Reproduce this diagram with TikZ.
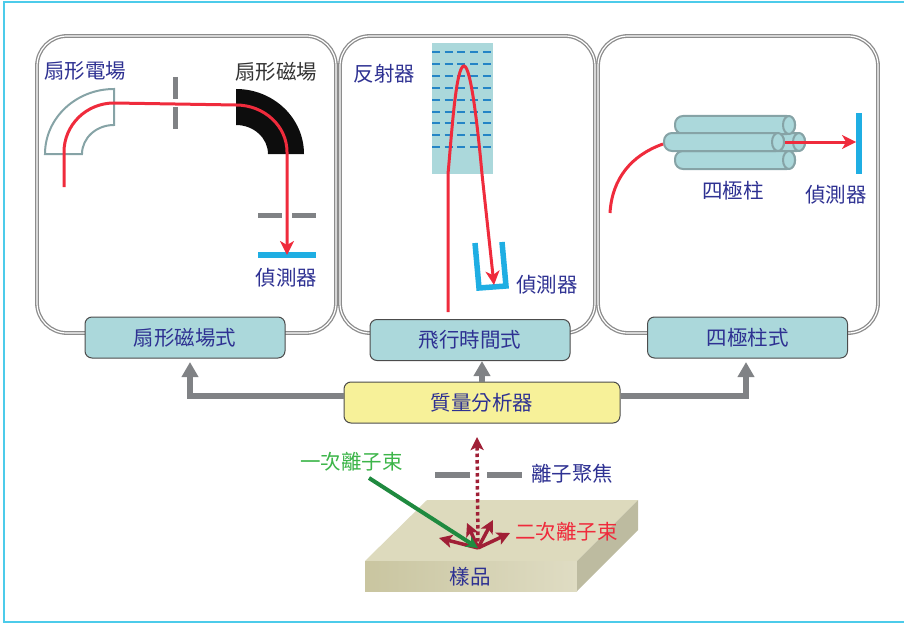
\documentclass[tikz,border=0pt]{standalone}
\usepackage{fontspec}
\setmainfont{Noto Sans CJK TC}
\usetikzlibrary{arrows.meta}
\definecolor{inkblue}{HTML}{2E3192}
\definecolor{framecyan}{HTML}{4CCBEA}
\definecolor{paleteal}{HTML}{ABD8DB}
\definecolor{paleyellow}{HTML}{F7F199}
\definecolor{slitgray}{HTML}{808285}
\definecolor{beamred}{HTML}{EF2B3C}
\definecolor{ionred}{HTML}{A01F36}
\definecolor{detcyan}{HTML}{1FAEE3}
\definecolor{rodedge}{HTML}{86A3A6}
\definecolor{gridblue}{HTML}{2484C6}
\definecolor{beamgreen}{HTML}{1F8A3F}
\definecolor{textgreen}{HTML}{3DB54A}
\definecolor{sampletop}{HTML}{DDDABD}
\definecolor{sampleside}{HTML}{BDBBA0}
\definecolor{sampleleft}{HTML}{C9C5A0}
\definecolor{sampleright}{HTML}{DFDCC3}
\tikzset{
 txt/.style={text=inkblue, inner sep=0pt, font=\fontsize{20.5}{24}\selectfont},
 panelbox/.style={draw=black!45, double=white, double distance=1.2pt, line width=1.3pt, rounded corners=30},
 typebox/.style={draw=black!70, line width=1pt, fill=paleteal, rounded corners=7, minimum width=200, minimum height=41, txt},
 flowline/.style={draw=slitgray, line width=6pt, -{Triangle[length=15pt,width=16pt]}},
 slit/.style={draw=slitgray, line width=5pt},
 detector/.style={draw=detcyan, line width=5.5pt},
 detplate/.style={fill=detcyan, inner sep=0pt},
 beam/.style={draw=beamred, line width=3pt},
 beamarrow/.style={beam, -{Stealth[length=14pt,width=14pt,inset=4pt]}},
 ionarrow/.style={draw=ionred, line width=3.5pt, -{Stealth[length=13pt,width=13pt,inset=3pt]}},
 rod/.style={draw=rodedge, line width=2pt, fill=paleteal},
}
\begin{document}
\begin{tikzpicture}[x=1pt, y=-1pt]
 \useasboundingbox (0,0) rectangle (904,623);
 \draw[framecyan, line width=1.2pt] (4,2) rectangle (910,622);

 \draw[panelbox] (37,36) rectangle (336,333);
 \draw[panelbox] (340,36) rectangle (595,333);
 \draw[panelbox] (598,36) rectangle (878,333);

 \node[name=magbox, typebox] at (185,337.5) {扇形磁場式};
 \node[name=tofbox, typebox] at (470,340) {飛行時間式};
 \node[name=quadbox, typebox] at (747.5,337.5) {四極柱式};
 \node[name=analyser, typebox, fill=paleyellow, minimum width=276] at (482,402.5) {質量分析器};

 \coordinate (magport) at (190,362);
 \coordinate (quadport) at (746,362);
 \draw[flowline] (analyser.west |- 0,396) -| (magport);
 \draw[flowline] (analyser.east |- 0,396) -| (quadport);
 \draw[flowline] (analyser.north) -- (analyser.north |- tofbox.south);

 \draw[draw=rodedge, line width=2pt] (45,154) arc[start angle=180, end angle=270, x radius=69, y radius=65] -- (114,125) arc[start angle=270, end angle=180, x radius=32, y radius=29] -- cycle;
 \fill[black!95] (236,89) arc[start angle=270, end angle=360, x radius=68, y radius=65] -- (268,154) arc[start angle=360, end angle=270, x radius=32, y radius=29] -- cycle;
 \draw[slit] (175,77) -- (175,99);
 \draw[slit] (175,107) -- (175,129);
 \draw[slit] (258,215) -- (282,215);
 \draw[slit] (292,215) -- (316,215);
 \node[name=magdet, detplate, minimum width=58, minimum height=5.5] at (287,255) {};
 \draw[beamarrow] (64,187) -- (64,152) arc[start angle=180, end angle=270, x radius=50, y radius=49] -- (236,105) arc[start angle=270, end angle=360, x radius=51, y radius=47] -- (magdet.center);
 \node[name=esector, txt] at (85,71) {扇形電場};
 \node[name=msector, txt, text=black!80] at (276,72) {扇形磁場};
 \node[name=magdetlabel, txt] at (286.5,278) {偵測器};

 \fill[paleteal] (432,43) rectangle (493,174);
 \foreach \y in {52,64,76,88,100,112,123,135,147}
  \draw[draw=gridblue, line width=1.5pt, dash pattern=on 8pt off 4.7pt] (432,\y) -- (492,\y);
 \draw[detector, line join=miter] (475,243) -- (479,288) -- (506,286) -- (502,242);
 \coordinate (tofdet) at (494,285);
 \draw[beamarrow] (448,312) -- (448,174) .. controls (452,130) and (456,66) .. (464,66) .. controls (471,66) and (478,130) .. (482,174) -- (tofdet);
 \node[name=mirror, txt] at (384.5,74) {反射器};
 \node[name=tofdetlabel, txt] at (547,285) {偵測器};

 \foreach \x/\y in {685/133, 675/116, 675/151, 664/133} {
  \draw[rod, rounded corners=8] (\x,\y) rectangle (\x+120,\y+18);
  \draw[rod] (\x+114,\y+9) ellipse [x radius=6, y radius=9];
 }
 \node[name=quaddet, detplate, minimum width=5.5, minimum height=61] at (859,143.5) {};
 \draw[beam] (610,213) .. controls (612,178) and (632,155) .. (663,144);
 \draw[beamarrow] (785,142) -- (quaddet.west |- 0,142);
 \node[name=rodlabel, txt] at (733,191) {四極柱};
 \node[name=quaddetlabel, txt] at (836,195) {偵測器};

 \fill[sampletop] (427,500) -- (638,500) -- (577,561) -- (365,561) -- cycle;
 \shade[left color=sampleleft, right color=sampleright] (365,561) rectangle (577,591);
 \fill[sampleside] (577,561) -- (638,500) -- (638,530) -- (577,591) -- cycle;
 \node[name=sample, txt] at (470,577) {樣品};

 \draw[slit, line width=6pt] (435,475) -- (470,475);
 \draw[slit, line width=6pt] (487,475) -- (522,475);
 \node[name=focus, txt] at (572,474) {離子聚焦};

 \coordinate (impact) at (478,548);
 \coordinate (gunend) at (369,478);
 \coordinate (iontop) at (477,437);
 \draw[draw=ionred, line width=3.5pt, dash pattern=on 3.5pt off 3pt, -{Stealth[length=13pt,width=13pt,inset=3pt]}] (impact) -- (iontop);
 \foreach \xx/\yy in {439/538, 467/523, 493/520, 510/533}
  \draw[ionarrow] (impact) -- (\xx,\yy);
 \draw[draw=beamgreen, line width=4pt, -{Stealth[length=12pt,width=12pt]}] (gunend) -- (impact);
 \node[name=primary, txt, text=textgreen] at (351.5,462) {一次離子束};
 \node[name=secondary, txt, text=beamred] at (566.5,532) {二次離子束};
\end{tikzpicture}
\end{document}
